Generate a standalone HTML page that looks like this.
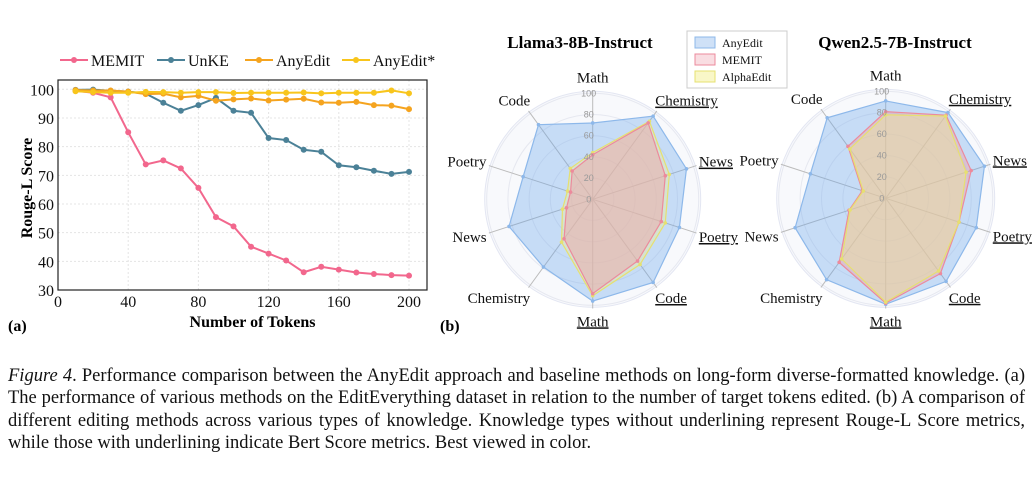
<!DOCTYPE html>
<html><head><meta charset="utf-8"><style>
body{margin:0;background:#fff;width:1033px;height:488px;overflow:hidden;font-family:"Liberation Serif",serif}
#cap{position:absolute;left:8px;top:365px;width:1017px;font-size:18.5px;line-height:22.4px;color:#111}
#cap span{display:block;text-align:justify;text-align-last:justify;white-space:nowrap}
#cap span.last{text-align-last:left}
</style></head><body>
<svg id="fig" width="1033" height="360" style="position:absolute;left:0;top:0" font-family="Liberation Serif, serif"></svg>
<div id="cap">
<span><i>Figure 4</i>. Performance comparison between the AnyEdit approach and baseline methods on long-form diverse-formatted knowledge. (a)</span>
<span>The performance of various methods on the EditEverything dataset in relation to the number of target tokens edited. (b) A comparison of</span>
<span>different editing methods across various types of knowledge. Knowledge types without underlining represent Rouge-L Score metrics,</span>
<span class="last">while those with underlining indicate Bert Score metrics. Best viewed in color.</span>
</div>
<script>
const tokens=[10,20,30,40,50,60,70,80,90,100,110,120,130,140,150,160,170,180,190,200];
const memit=[99.5,98.8,97.2,85,73.8,75.2,72.4,65.6,55.4,52.2,45.1,42.7,40.3,36.2,38.1,37.1,36.1,35.6,35.2,35.0];
const unke=[99.8,99.9,99.5,99.2,98.5,95.3,92.5,94.5,97,92.5,91.8,83,82.3,78.9,78.2,73.5,72.8,71.6,70.5,71.2];
const anyedit=[99.7,99.6,99.6,99.2,98.3,98.5,97.2,97.7,96,96.5,96.8,96.1,96.4,96.7,95.4,95.3,95.6,94.5,94.3,93.1];
const anyeditStar=[99.3,99.0,98.8,98.8,99.1,99.0,98.8,99.0,99.0,98.7,98.8,98.8,98.8,98.9,98.6,98.8,98.8,98.8,99.6,98.6];
const xTicks=[0,40,80,120,160,200];
const yTicks=[30,40,50,60,70,80,90,100];
const radarAxes=["Math","Chemistry","News","Poetry","Code","Math","Chemistry","News","Poetry","Code"];
const radarUnderline=[false,true,true,true,true,true,false,false,false,false];
const rTicks=[0,20,40,60,80,100];
const llamaAnyEdit=[72,97,93,86,97,96,79,83,69,87];
const llamaMemit=[42,89,72,68,72,89,46,26,22,33];
const llamaAlpha=[44,91,76,72,76,91,50,30,25,36];
const qwenAnyEdit=[91,99,97,89,96,99,94,89,74,93];
const qwenMemit=[81,96,84,72,87,98,74,36,23,60];
const qwenAlpha=[78,95,79,72,84,97,70,35,22,57];

const svg=document.getElementById('fig');const NS='http://www.w3.org/2000/svg';
function mk(t,a,p){const e=document.createElementNS(NS,t);for(const k in a)e.setAttribute(k,a[k]);(p||svg).appendChild(e);return e;}
const L=58,R=427,T=80,B=290;
const xs=v=>L+(v/200)*(409-L);
const ys=v=>B-(v-30)*(B-89.3)/70;
const g=mk('g',{});
xTicks.forEach(t=>{mk('line',{x1:xs(t),x2:xs(t),y1:T,y2:B,stroke:'#e4e4e4','stroke-dasharray':'2,2'},g);
 const tx=mk('text',{x:xs(t),y:B+17,'text-anchor':'middle','font-size':16,fill:'#111'},g);tx.textContent=t;});
yTicks.forEach(t=>{mk('line',{x1:L,x2:R,y1:ys(t),y2:ys(t),stroke:'#e4e4e4','stroke-dasharray':'2,2'},g);
 const tx=mk('text',{x:L-4,y:ys(t)+6,'text-anchor':'end','font-size':16,fill:'#111'},g);tx.textContent=t;});
const fr=mk('rect',{x:L,y:T,width:R-L,height:B-T,fill:'none',stroke:'#222','stroke-width':1.2},g);
const series=[['memit',memit,'#f2678d'],['unke',unke,'#4b8197'],['anyedit',anyedit,'#f5a41f'],['anyedit-star',anyeditStar,'#f8c51c']];
series.forEach(([n,d,c])=>{const pl=mk('polyline',{points:d.map((v,i)=>xs(tokens[i])+','+ys(v)).join(' '),fill:'none',stroke:c,'stroke-width':2},g);
 
 d.forEach((v,i)=>{const p=mk('circle',{cx:xs(tokens[i]),cy:ys(v),r:3,fill:c},g);});});
const leg=[['MEMIT','#f2678d',60],['UnKE','#4b8197',157],['AnyEdit','#f5a41f',245],['AnyEdit*','#f8c51c',342]];
leg.forEach(([n,c,x])=>{mk('line',{x1:x,x2:x+28,y1:60,y2:60,stroke:c,'stroke-width':2},g);mk('circle',{cx:x+14,cy:60,r:3,fill:c},g);
 const tx=mk('text',{x:x+31,y:66,'font-size':16,fill:'#111'},g);tx.textContent=n;});
let t=mk('text',{x:(L+R)/2+10,y:327,'text-anchor':'middle','font-size':16,'font-weight':'bold'},g);t.textContent='Number of Tokens';
t=mk('text',{x:0,y:0,transform:'translate(32,188) rotate(-90)','text-anchor':'middle','font-size':16,'font-weight':'bold'},g);t.textContent='Rouge-L Score';
t=mk('text',{x:8,y:331,'font-size':16,'font-weight':'bold'});t.textContent='(a)';
t=mk('text',{x:440,y:331,'font-size':16,'font-weight':'bold'});t.textContent='(b)';
function radar(cx,cy,r,title,tx,ty,sets,nm){
 const rg=mk('g',{});
 const N=radarAxes.length;const pt=(i,v)=>{const a=i*2*Math.PI/N;return [cx+Math.sin(a)*r*v/100,cy-Math.cos(a)*r*v/100];};
 mk('circle',{cx,cy,r:r+2,fill:'#f8f9fc',stroke:'#e3e6f2'},rg);
 rTicks.slice(1).forEach(v=>mk('circle',{cx,cy,r:r*v/100,fill:'none',stroke:'#e6e8f0'},rg));
 radarAxes.forEach((a,i)=>{const [x,y]=pt(i,103);mk('line',{x1:cx,y1:cy,x2:x,y2:y,stroke:'#bbb'},rg);});
 sets.forEach(([d,fill,stroke,op])=>{const p=mk('polygon',{points:d.map((v,i)=>pt(i,v).join(',')).join(' '),fill,'fill-opacity':op,stroke,'stroke-width':1.2},rg);
  
  d.forEach((v,i)=>{const [x,y]=pt(i,v);mk('circle',{cx:x,cy:y,r:1.8,fill:stroke},rg);});});
 rTicks.forEach(v=>{const e=mk('text',{x:cx-4,y:cy-r*v/100+3,'text-anchor':'middle','font-size':9,fill:'#999','font-family':'Liberation Sans, sans-serif'},rg);e.textContent=v;});
 radarAxes.forEach((a,i)=>{const ang=i*2*Math.PI/N;const s=Math.sin(ang),c=Math.cos(ang);
  const x=cx+s*(r+14),y=cy-c*(r+16)+5;const anc=s>0.3?'start':s<-0.3?'end':'middle';
  const e=mk('text',{x:x+(anc==='start'?-8:anc==='end'?8:0),y,'text-anchor':anc,'font-size':15,fill:'#111'},rg);e.textContent=a;
  if(radarUnderline[i])e.setAttribute('text-decoration','underline');});
 const h=mk('text',{x:tx,y:ty,'text-anchor':'middle','font-size':17,'font-weight':'bold'},rg);h.textContent=title;
}
radar(592.7,199.3,106,'Llama3-8B-Instruct',580,48,[[llamaAnyEdit,'#6aa6ea','#8db8ea',0.35],[llamaAlpha,'#f3f08a','#e6e070',0.35],[llamaMemit,'#f0a0a8','#ec8a9c',0.45]],'radar-llama');
radar(885.7,198.3,107,'Qwen2.5-7B-Instruct',895,48,[[qwenAnyEdit,'#6aa6ea','#8db8ea',0.35],[qwenMemit,'#f0a0a8','#ec8a9c',0.45],[qwenAlpha,'#f3f08a','#e6e070',0.35]],'radar-qwen');
const lg=mk('g',{});
mk('rect',{x:687,y:31,width:100,height:57,fill:'#fff',stroke:'#ccc'},lg);
[['AnyEdit','#cfe1f7','#8db8ea'],['MEMIT','#f9dde2','#ec8a9c'],['AlphaEdit','#f9f7c8','#e6e070']].forEach(([n,f,s],i)=>{
 mk('rect',{x:695,y:37+i*17,width:20,height:11,fill:f,stroke:s},lg);
 const e=mk('text',{x:722,y:47+i*17,'font-size':12,fill:'#111'},lg);e.textContent=n;});
</script>
</body></html>
